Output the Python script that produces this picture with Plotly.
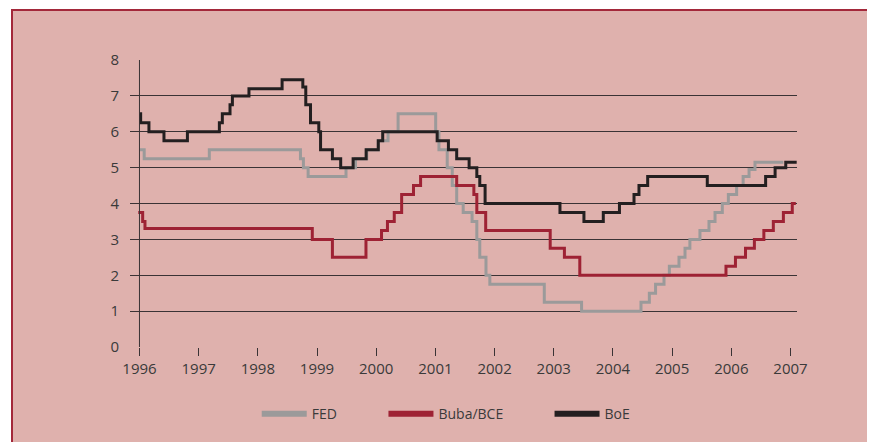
import plotly.graph_objects as go

# tipos de interés oficiales (escalones)
fed_x = [1996.0, 1996.08, 1997.18, 1998.72, 1998.77, 1998.85, 1999.49, 1999.65, 1999.84,
         2000.035, 2000.20, 2000.37, 2001.005, 2001.06, 2001.20, 2001.285, 2001.36, 2001.47,
         2001.62, 2001.70, 2001.75, 2001.855, 2001.92, 2002.84, 2003.47, 2004.474, 2004.615,
         2004.72, 2004.863, 2004.953, 2005.116, 2005.218, 2005.30, 2005.47, 2005.623, 2005.725,
         2005.848, 2005.95, 2006.09, 2006.20, 2006.30, 2006.40, 2006.88]
fed_y = [5.5, 5.25, 5.5, 5.25, 5.0, 4.75, 5.0, 5.25, 5.5,
         5.75, 6.0, 6.5, 6.0, 5.5, 5.0, 4.5, 4.0, 3.75,
         3.5, 3.0, 2.5, 2.0, 1.75, 1.25, 1.0, 1.25, 1.5,
         1.75, 2.0, 2.25, 2.5, 2.75, 3.0, 3.25, 3.5, 3.75,
         4.0, 4.25, 4.5, 4.75, 4.95, 5.15, 5.15]

buba_x = [1995.98, 1996.054, 1996.093, 1998.92, 1999.26, 1999.827, 2000.09, 2000.19, 2000.305,
          2000.43, 2000.63, 2000.75, 2001.36, 2001.65, 2001.70, 2001.85, 2002.94, 2003.18,
          2003.44, 2005.91, 2006.07, 2006.24, 2006.39, 2006.55, 2006.71, 2006.88, 2007.03, 2007.09]
buba_y = [3.75, 3.5, 3.3, 3.0, 2.5, 3.0, 3.25, 3.5, 3.75,
          4.25, 4.5, 4.75, 4.5, 4.25, 3.75, 3.25, 2.75, 2.5,
          2.0, 2.25, 2.5, 2.75, 3.0, 3.25, 3.5, 3.75, 4.0, 4.0]

boe_x = [1996.0, 1996.02, 1996.16, 1996.414, 1996.81, 1997.35, 1997.40, 1997.53, 1997.57,
         1997.85, 1998.41, 1998.76, 1998.81, 1998.89, 1999.03, 1999.06, 1999.26, 1999.40,
         1999.61, 1999.83, 2000.035, 2000.11, 2001.03, 2001.22, 2001.36, 2001.57, 2001.70,
         2001.75, 2001.84, 2003.105, 2003.51, 2003.837, 2004.11, 2004.356, 2004.44, 2004.587,
         2005.594, 2006.58, 2006.74, 2006.92, 2007.105]
boe_y = [6.5, 6.25, 6.0, 5.75, 6.0, 6.25, 6.5, 6.75, 7.0,
         7.2, 7.45, 7.25, 6.75, 6.25, 6.0, 5.5, 5.25, 5.0,
         5.25, 5.5, 5.75, 6.0, 5.75, 5.5, 5.25, 5.0, 4.75,
         4.5, 4.0, 3.75, 3.5, 3.75, 4.0, 4.25, 4.5, 4.75,
         4.5, 4.75, 5.0, 5.15, 5.15]

years = list(range(1996, 2008))
y_ticks = list(range(0, 9))

PINK = "#dfb1ad"
DARKRED = "#a3283a"
FONT = "Open Sans"

series = [
    ("FED", fed_x, fed_y, "#9b9a9a", "legend", 0.19),
    ("Buba/BCE", buba_x, buba_y, "#9e2234", "legend2", 0.380),
    ("BoE", boe_x, boe_y, "#231f20", "legend3", 0.629),
]

fig = go.Figure()
legends = {}
for name, xs, ys, color, leg, lx in series:
    fig.add_trace(go.Scatter(
        x=xs, y=ys, mode="lines", line=dict(color=color, width=3, shape="hv"),
        showlegend=False, hoverinfo="skip",
    ))
    # entrada de leyenda con trazo más grueso
    fig.add_trace(go.Scatter(
        x=[None], y=[None], mode="lines", name=name, legend=leg,
        line=dict(color=color, width=6),
    ))
    legends[leg] = dict(
        x=lx, y=-0.234, xanchor="left", yanchor="middle", orientation="h",
        bgcolor="rgba(0,0,0,0)", borderwidth=0, itemwidth=45,
        font=dict(family=FONT, size=14, color="#3a3a3a"),
    )

# la página añade 8 px de margen: se compensa en los márgenes
fig.update_layout(
    width=875, height=442,
    margin=dict(l=122, r=86, t=52, b=103),
    paper_bgcolor="white",
    plot_bgcolor="rgba(0,0,0,0)",
    font=dict(family=FONT, size=15, color="#3a3a3a"),
    shapes=[
        dict(type="rect", xref="paper", yref="paper", layer="below",
             x0=(12 - 130) / 667, x1=1.3, y0=-0.5, y1=(347 - 10) / 287,
             fillcolor=PINK, line=dict(color=DARKRED, width=2)),
        dict(type="line", xref="x", yref="y", x0=years[0], x1=years[0],
             y0=y_ticks[0], y1=y_ticks[-1], line=dict(color="#3a3335", width=1)),
    ],
    **legends,
)
fig.update_xaxes(
    range=[1995.84, 2007.11], tickvals=years, showgrid=False, zeroline=False,
    ticks="outside", ticklen=8, tickcolor="#3a3335", tickwidth=1,
    tickfont=dict(size=15, color="#3a3a3a"),
)
fig.update_yaxes(
    range=[0, 8], tickvals=y_ticks, showgrid=True, gridcolor="#3a3335", gridwidth=1,
    zeroline=False, ticks="", ticklabelstandoff=10,
    tickfont=dict(size=15, color="#3a3a3a"),
)

fig.write_html("out.html")
